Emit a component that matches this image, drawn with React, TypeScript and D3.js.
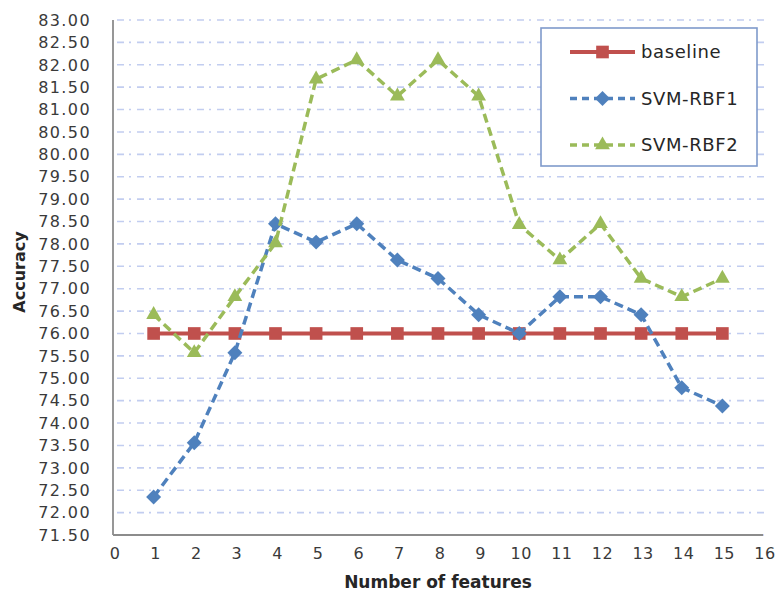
import React from "react";
import * as d3 from "d3";

const features = [1, 2, 3, 4, 5, 6, 7, 8, 9, 10, 11, 12, 13, 14, 15];
const baseline = [76.0, 76.0, 76.0, 76.0, 76.0, 76.0, 76.0, 76.0, 76.0, 76.0, 76.0, 76.0, 76.0, 76.0, 76.0];
const svmRbf1 = [72.35, 73.56, 75.57, 78.45, 78.04, 78.45, 77.64, 77.23, 76.42, 76.0, 76.82, 76.82, 76.42, 74.79, 74.38];
const svmRbf2 = [76.42, 75.57, 76.82, 78.02, 81.68, 82.11, 81.3, 82.11, 81.3, 78.43, 77.64, 78.45, 77.23, 76.82, 77.23];
const yTicks = d3.range(71.5, 83.0001, 0.5);
const xTicks = d3.range(0, 17, 1);

const seriesDefs = [
  { name: "baseline", values: baseline, color: "#c0504d", dash: "none", marker: "square" },
  { name: "SVM-RBF1", values: svmRbf1, color: "#4f81bd", dash: "9,5", marker: "diamond" },
  { name: "SVM-RBF2", values: svmRbf2, color: "#9bbb59", dash: "9,5", marker: "triangle" },
];

const W = 775;
const H = 598;
const x = d3.scaleLinear().domain([0, 16]).range([113, 763]);
const y = d3.scaleLinear().domain([71.5, 83]).range([535, 20]);

const FONT = "'DejaVu Sans', sans-serif";

function markerPath(kind: string): { d: string; rot: number } {
  if (kind === "square") return { d: d3.symbol(d3.symbolSquare, 160)() as string, rot: 0 };
  if (kind === "diamond") return { d: d3.symbol(d3.symbolSquare, 112)() as string, rot: 45 };
  return { d: d3.symbol(d3.symbolTriangle, 95)() as string, rot: 0 };
}

export default function App() {
  const line = d3
    .line<number>()
    .x((_, i) => x(features[i]))
    .y((v) => y(v));

  return (
    <svg width={W} height={H} style={{ position: "absolute", left: 0, top: 0, background: "#fff" }}>
      {/* gridlines */}
      {yTicks.map((t) => (
        <line
          key={"g" + t}
          x1={x(0) + 4}
          x2={767}
          y1={y(t)}
          y2={y(t)}
          stroke="#c2cdf0"
          strokeWidth={1.6}
          strokeDasharray="7,5,2,6"
        />
      ))}
      {/* axes */}
      <line x1={x(0)} x2={x(0)} y1={y(83)} y2={y(71.5)} stroke="#8c8c8c" strokeWidth={1.8} />
      <line x1={x(0)} x2={x(16)} y1={y(71.5)} y2={y(71.5)} stroke="#8c8c8c" strokeWidth={1.8} />
      {/* y tick labels */}
      {yTicks.map((t) => (
        <text
          key={"y" + t}
          x={91}
          y={y(t)}
          dy="0.36em"
          textAnchor="end"
          fontFamily={FONT}
          fontSize={16}
          letterSpacing={1.4}
          fill="#3a3a3a"
        >
          {t.toFixed(2)}
        </text>
      ))}
      {/* x tick labels */}
      {xTicks.map((t) => (
        <text
          key={"x" + t}
          x={x(t) + 2}
          y={553}
          dy="0.36em"
          textAnchor="middle"
          fontFamily={FONT}
          fontSize={16}
          letterSpacing={0.5}
          fill="#3a3a3a"
        >
          {t}
        </text>
      ))}
      {/* axis titles */}
      <text
        x={438}
        y={582}
        dy="0.36em"
        textAnchor="middle"
        fontFamily={FONT}
        fontSize={17}
        fontWeight="bold"
        fill="#262626"
      >
        Number of features
      </text>
      <text
        transform={`translate(19,272) rotate(-90)`}
        dy="0.36em"
        textAnchor="middle"
        fontFamily={FONT}
        fontSize={16}
        fontWeight="bold"
        fill="#262626"
      >
        Accuracy
      </text>
      {/* series */}
      {seriesDefs.map((s) => {
        const m = markerPath(s.marker);
        return (
          <g key={s.name}>
            <path
              d={line(s.values) as string}
              fill="none"
              stroke={s.color}
              strokeWidth={s.marker === "square" ? 4 : 3.5}
              strokeDasharray={s.dash}
            />
            {s.values.map((v, i) => (
              <path
                key={i}
                d={m.d}
                transform={`translate(${x(features[i])},${y(v)}) rotate(${m.rot})`}
                fill={s.color}
              />
            ))}
          </g>
        );
      })}
      {/* legend */}
      <rect x={541} y={28} width={216} height={138} fill="#fff" stroke="#7f9acb" strokeWidth={1.6} />
      {seriesDefs.map((s, i) => {
        const m = markerPath(s.marker);
        const ly = 52 + i * 46.5;
        return (
          <g key={"l" + s.name}>
            <line
              x1={570}
              x2={635}
              y1={ly}
              y2={ly}
              stroke={s.color}
              strokeWidth={s.marker === "square" ? 4 : 3.5}
              strokeDasharray={s.dash === "none" ? undefined : "7,5"}
            />
            <path d={m.d} transform={`translate(602.5,${ly}) rotate(${m.rot})`} fill={s.color} />
            <text
              x={641}
              y={ly}
              dy="0.36em"
              fontFamily={FONT}
              fontSize={18}
              letterSpacing={0.6}
              fill="#262626"
            >
              {s.name}
            </text>
          </g>
        );
      })}
    </svg>
  );
}
